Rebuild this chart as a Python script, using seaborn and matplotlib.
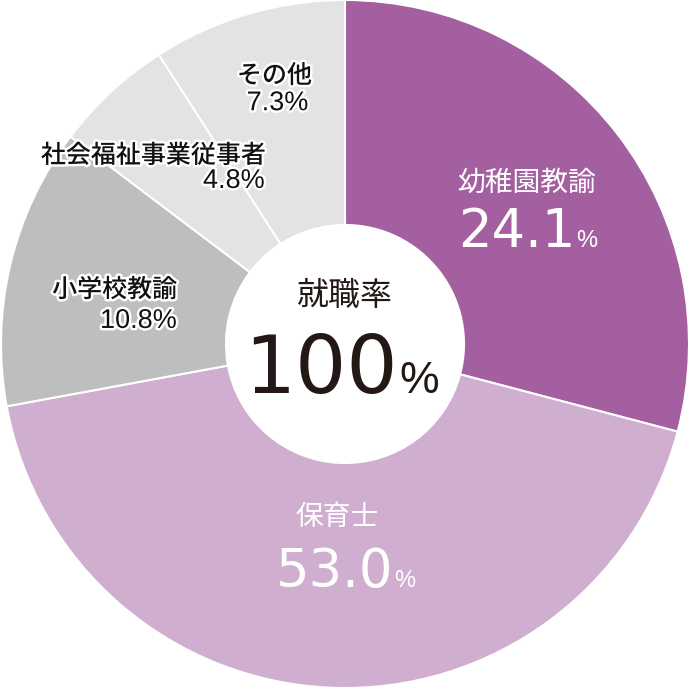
import matplotlib
matplotlib.use("Agg")
import matplotlib.pyplot as plt
import matplotlib.patheffects as pe
import seaborn as sns

# data
categories = ['幼稚園教諭', '保育士', '小学校教諭', '社会福祉事業従事者', 'その他']
shares = ['24.1', '53.0', '10.8', '4.8', '7.3']          # printed percentages
drawn = [29.1, 43.0, 13.2, 5.6, 9.1]                     # arc sizes as drawn in the picture
total_label = '就職率'
total_value = '100'

colors = ['#A45FA0', '#CFAED0', '#BDBFBE', '#E3E3E3', '#E3E3E3']

sns.set_theme(style='white')
plt.rcParams['font.family'] = ['Noto Sans CJK JP', 'DejaVu Sans']
JP = ['Noto Sans CJK JP', 'DejaVu Sans']
NUM = ['Liberation Sans', 'DejaVu Sans']
BIG = ['DejaVu Sans']

fig = plt.figure(figsize=(6.9, 6.9), dpi=100)
ax = fig.add_axes([0, 0, 1, 1])

# donut
ax.pie(drawn, colors=colors, startangle=90, counterclock=False, radius=1.0,
       wedgeprops=dict(width=0.654, edgecolor='white', linewidth=1.5))
ax.set_xlim(-345 / 344, 345 / 344)
ax.set_ylim(-346 / 344, 344 / 344)
ax.set_aspect('equal')
ax.axis('off')

# big labels inside the purple wedges
ax.text(0.529, 0.468, categories[0], color='white', fontsize=20, family=JP,
        ha='center', va='center')
ax.text(0.669, 0.282, shares[0], color='white', fontsize=38, family=BIG,
        ha='right', va='baseline')
ax.text(0.671, 0.282, '%', color='white', fontsize=17, family=NUM,
        ha='left', va='baseline')

ax.text(-0.023, -0.503, categories[1], color='white', fontsize=20, family=JP,
        ha='center', va='center')
ax.text(0.140, -0.706, shares[1], color='white', fontsize=38, family=BIG,
        ha='right', va='baseline')
ax.text(0.144, -0.706, '%', color='white', fontsize=17, family=NUM,
        ha='left', va='baseline')

# small labels on the gray wedges (black with white halo)
halo = [pe.withStroke(linewidth=3.5, foreground='white')]
small = [
    (2, -0.488, 0.157, -0.488, 0.067),
    (3, -0.230, 0.547, -0.233, 0.474),
    (4, -0.096, 0.779, -0.105, 0.700),
]
for i, x1, y1, x2, y2 in small:
    ax.text(x1, y1, categories[i], color='#111111', fontsize=18, family=JP,
            fontweight='medium', ha='right', va='center', path_effects=halo)
    ax.text(x2, y2, shares[i] + '%', color='#111111', fontsize=19.5, family=NUM,
            ha='right', va='center', path_effects=halo)

# centre
ax.text(0.0, 0.14, total_label, color='#231815', fontsize=23, family=JP,
        ha='center', va='center')
ax.text(0.154, -0.142, total_value, color='#231815', fontsize=58, family=BIG,
        ha='right', va='baseline')
ax.text(0.157, -0.142, '%', color='#231815', fontsize=32, family=NUM,
        ha='left', va='baseline')

fig.savefig('out.png', dpi=100, facecolor='white')
